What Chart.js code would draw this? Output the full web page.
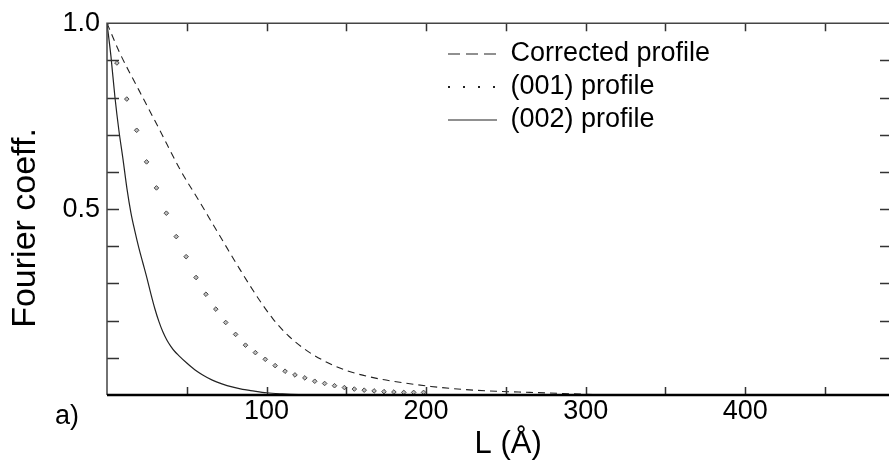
<!DOCTYPE html>
<html>
<head>
<meta charset="utf-8">
<script src="https://cdn.jsdelivr.net/npm/chart.js@4.4.1/dist/chart.umd.min.js"></script>
<style>
  html, body { margin: 0; padding: 0; overflow: hidden; background: #fff; }
  #wrap { position: relative; width: 900px; height: 461px; }
  #panel { position: absolute; left: 55px; top: 402px; font: 27px "Liberation Sans", Arial, sans-serif; line-height: 27px; color: #000; }
</style>
</head>
<body>
<div id="wrap">
  <canvas id="myChart"></canvas>
  <div id="panel">a)</div>
</div>
<script>
const ctx = document.getElementById('myChart');

// Corrected profile (dashed)
const correctedL = [0, 8, 20, 33, 46, 58, 66, 75, 83, 94, 104, 114, 125, 136, 150, 171, 192, 203, 223, 244, 265, 286, 300, 320];
const correctedF = [1.0, 0.92, 0.82, 0.713, 0.605, 0.52, 0.462, 0.397, 0.34, 0.265, 0.205, 0.158, 0.12, 0.092, 0.066, 0.043, 0.029, 0.023, 0.015, 0.01, 0.007, 0.004, 0.002, 0];

// (001) profile (dots)
const p001L = [0, 6.2, 12.4, 18.6, 24.8, 31, 37.2, 43.4, 49.6, 55.8, 62, 68.2, 74.4, 80.6, 86.8, 93, 99.2, 105.4, 111.6, 117.8, 124, 130.2, 136.4, 142.6, 148.8, 155, 161.2, 167.4, 173.6, 179.8, 186, 192.2, 198.4];
const p001F = [1.0, 0.893, 0.796, 0.712, 0.627, 0.557, 0.489, 0.426, 0.372, 0.316, 0.271, 0.231, 0.195, 0.163, 0.134, 0.114, 0.096, 0.079, 0.064, 0.054, 0.046, 0.037, 0.031, 0.025, 0.020, 0.016, 0.013, 0.011, 0.009, 0.008, 0.007, 0.007, 0.007];

// (002) profile (solid)
const p002L = [0, 2.5, 5, 7.5, 10, 12.5, 15, 17.5, 20, 22.5, 25, 27.5, 30, 32.5, 35, 37.5, 40, 42.5, 45, 50, 55, 60, 66, 72, 79, 85, 90, 100, 110, 120, 130];
const p002F = [1.0, 0.91, 0.80, 0.71, 0.635, 0.555, 0.49, 0.44, 0.395, 0.355, 0.315, 0.272, 0.232, 0.198, 0.170, 0.148, 0.131, 0.117, 0.106, 0.086, 0.068, 0.054, 0.040, 0.030, 0.021, 0.015, 0.012, 0.006, 0.003, 0.001, 0];

const seriesNames = ['Corrected profile', '(001) profile', '(002) profile'];
const xLabelled = [100, 200, 300, 400];
const yLabelled = [0.5, 1.0];

const FONT = '"Liberation Sans", Arial, sans-serif';
const legendDash = [[12, 6], [2, 13], []];
const legendWidth = [1.2, 2, 1.2];

function pts(xs, ys) {
  return xs.map((v, i) => ({ x: v, y: ys[i] }));
}

// box + inward ticks, legend moved inside the plot
const frame = {
  id: 'frame',
  beforeDraw(chart) {
    const lg = chart.legend;
    if (lg) { lg.left = 442; lg.top = 34.5; }
  },
  afterDatasetsDraw(chart) {
    const { ctx, chartArea: a, scales: { x, y } } = chart;
    ctx.save();
    ctx.strokeStyle = '#333';
    ctx.lineWidth = 1.5;
    ctx.beginPath();
    x.ticks.forEach(t => {
      if (t.value <= x.min || t.value >= x.max) return;
      const px = Math.round(x.getPixelForValue(t.value)) + 0.5;
      ctx.moveTo(px, a.top); ctx.lineTo(px, a.top + 8);
      ctx.moveTo(px, a.bottom); ctx.lineTo(px, a.bottom - 8);
    });
    y.ticks.forEach(t => {
      if (t.value <= y.min || t.value >= y.max) return;
      const py = Math.round(y.getPixelForValue(t.value)) + 0.5;
      ctx.moveTo(a.left, py); ctx.lineTo(a.left + 12, py);
      ctx.moveTo(a.right, py); ctx.lineTo(a.right - 12, py);
    });
    ctx.stroke();
    ctx.strokeStyle = '#444';
    ctx.lineWidth = 1.5;
    ctx.beginPath();
    ctx.moveTo(a.left, a.bottom); ctx.lineTo(a.left, a.top); ctx.lineTo(a.right, a.top); ctx.lineTo(a.right, a.bottom);
    ctx.stroke();
    ctx.strokeStyle = '#000';
    ctx.lineWidth = 2.5;
    ctx.beginPath();
    ctx.moveTo(a.left, a.bottom); ctx.lineTo(a.right, a.bottom);
    ctx.stroke();
    ctx.restore();
  }
};

new Chart(ctx, {
  type: 'scatter',
  data: {
    datasets: [{
      label: seriesNames[0],
      data: pts(correctedL, correctedF),
      showLine: true,
      borderColor: '#222',
      borderWidth: 1.1,
      borderDash: [7, 5],
      pointRadius: 0,
      cubicInterpolationMode: 'monotone'
    }, {
      label: seriesNames[1],
      data: pts(p001L, p001F),
      showLine: false,
      pointStyle: 'rectRot',
      pointRadius: 2.3,
      pointBorderWidth: 1,
      pointBorderColor: '#4a4a4a',
      pointBackgroundColor: '#bbb',
      borderColor: '#222'
    }, {
      label: seriesNames[2],
      data: pts(p002L, p002F),
      showLine: true,
      borderColor: '#222',
      borderWidth: 1.2,
      pointRadius: 0,
      cubicInterpolationMode: 'monotone'
    }]
  },
  options: {
    responsive: true,
    maintainAspectRatio: false,
    devicePixelRatio: 1,
    animation: false,
    events: [],
    layout: { padding: { top: 23, right: 8, left: 0, bottom: 0 } },
    scales: {
      x: {
        type: 'linear',
        min: 0,
        max: 492,
        grid: { display: false, drawTicks: false },
        border: { display: false },
        ticks: {
          stepSize: 50,
          includeBounds: false,
          autoSkip: false,
          maxRotation: 0,
          padding: 0,
          color: '#000',
          font: { family: FONT, size: 27 },
          callback: v => xLabelled.includes(v) ? String(v) : ''
        },
        title: {
          display: true,
          text: '  L (Å)',
          color: '#000',
          font: { family: FONT, size: 31 },
          padding: { top: 0, bottom: -2 }
        },
        afterFit: s => { s.height = 66; }
      },
      y: {
        min: 0,
        max: 1,
        grid: { display: false, drawTicks: false },
        border: { display: false },
        ticks: {
          stepSize: 0.1,
          autoSkip: false,
          padding: 7,
          color: '#000',
          font: { family: FONT, size: 27 },
          callback: v => yLabelled.some(t => Math.abs(t - v) < 1e-9) ? v.toFixed(1) : ''
        },
        title: {
          display: true,
          text: 'Fourier coeff.    ',
          color: '#000',
          font: { family: FONT, size: 34 },
          padding: { top: 5, bottom: 0 }
        },
        afterFit: s => { s.width = 107; }
      }
    },
    plugins: {
      tooltip: { enabled: false },
      legend: {
        position: 'chartArea',
        align: 'start',
        labels: {
          usePointStyle: true,
          pointStyleWidth: 49,
          padding: 6,
          color: '#000',
          font: { family: FONT, size: 27 },
          generateLabels(chart) {
            const items = Chart.defaults.plugins.legend.labels.generateLabels(chart);
            return items.map((it, i) => Object.assign(it, {
              pointStyle: 'line',
              lineDash: legendDash[i],
              lineWidth: legendWidth[i],
              strokeStyle: '#222',
              fillStyle: '#222',
              fontColor: '#000'
            }));
          }
        }
      }
    }
  },
  plugins: [frame]
});
</script>
</body>
</html>
